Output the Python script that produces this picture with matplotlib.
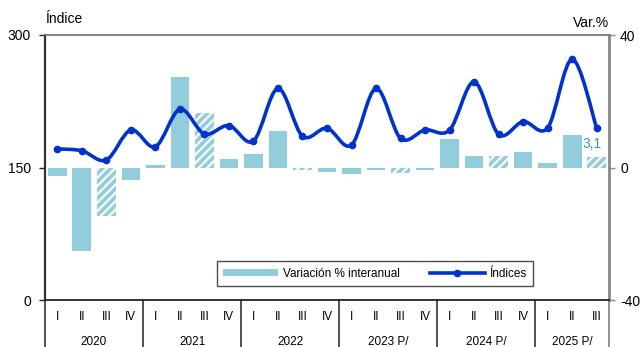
import numpy as np
import matplotlib
matplotlib.use("Agg")
import matplotlib.pyplot as plt
from matplotlib.path import Path
from matplotlib.patches import PathPatch
from matplotlib.lines import Line2D
from matplotlib.patches import Patch
import matplotlib.transforms as mtrans

plt.rcParams["font.family"] = ["Liberation Sans", "DejaVu Sans"]
plt.rcParams["hatch.color"] = "white"
plt.rcParams["hatch.linewidth"] = 1.6

# ----------------------------
# Data
# ----------------------------
years = ["2020", "2021", "2022", "2023 P/", "2024 P/", "2025 P/"]
quarters = ["I", "II", "III", "IV"] * 5 + ["I", "II", "III"]

indices = [171, 169, 158.5, 192.5, 173.5, 216, 188, 197.5, 180, 239.5, 185.5, 194.5,
           175.5, 239.5, 183, 192.5, 192.5, 247, 187.5, 202, 195, 272.5, 194.5]
variacion = [-2.6, -25.3, -14.7, -3.9, 0.9, 27.3, 16.5, 2.7, 4.1, 11.0, -0.8, -1.4,
             -2.1, -0.9, -1.6, -0.7, 8.5, 3.6, 3.4, 4.7, 1.4, 9.8, 3.1]
hatched = [2, 6, 10, 14, 18, 22]   # third quarters

BAR_COLOR = "#92CDDC"
LINE_COLOR = "#0033CC"

x = np.arange(len(indices))

fig = plt.figure(figsize=(6.4, 3.47), dpi=100)
ax = fig.add_axes([45 / 640, 47 / 347, 564 / 640, 265 / 347])
ax2 = ax.twinx()

# ----------------------------
# Bars (right axis)
# ----------------------------
for i, v in enumerate(variacion):
    if i in hatched:
        ax2.bar(x[i], v, width=0.76, color=BAR_COLOR, edgecolor="white",
                hatch="////", linewidth=0)
    else:
        ax2.bar(x[i], v, width=0.76, color=BAR_COLOR, linewidth=0)
ax2.set_ylim(-40, 40)
ax2.set_yticks([-40, 0, 40])
ax2.set_yticklabels(["-40", "0", "40"])
ax2.text(x[-1] - 0.2, variacion[-1] + 2.0, "3,1", color="#3399CC",
         fontsize=10, ha="center", va="bottom")

# ----------------------------
# Smoothed index line (left axis), Catmull-Rom -> Bezier
# ----------------------------
pts = np.column_stack([x, indices]).astype(float)
verts = [tuple(pts[0])]
codes = [Path.MOVETO]
for k in range(len(pts) - 1):
    p0 = pts[max(k - 1, 0)]
    p1 = pts[k]
    p2 = pts[k + 1]
    p3 = pts[min(k + 2, len(pts) - 1)]
    c1 = p1 + (p2 - p0) / 6
    c2 = p2 - (p3 - p1) / 6
    verts += [tuple(c1), tuple(c2), tuple(p2)]
    codes += [Path.CURVE4] * 3
ax.add_patch(PathPatch(Path(verts, codes), fill=False, edgecolor=LINE_COLOR,
                       linewidth=2.6, zorder=3))
ax.plot(x, indices, "o", color=LINE_COLOR, markersize=4.5, zorder=4)

ax.set_zorder(ax2.get_zorder() + 1)
ax.patch.set_visible(False)
ax.set_ylim(0, 300)
ax.set_yticks([0, 150, 300])
ax.set_xlim(-0.5, len(x) - 0.5)
ax.set_xticks([])
ax2.set_xticks([])

ax.tick_params(axis="y", labelsize=10, length=4, width=1, pad=6, color="#222222")
ax2.tick_params(axis="y", labelsize=10, length=4, width=1, pad=4, color="#888888")

ax.spines["left"].set_color("#333333")
ax.spines["left"].set_linewidth(1.6)
ax.spines["bottom"].set_color("#222222")
ax.spines["bottom"].set_linewidth(1.3)
ax.spines["top"].set_color("#777777")
ax.spines["top"].set_linewidth(1.3)
ax.spines["right"].set_visible(False)
ax2.spines["right"].set_color("#888888")
ax2.spines["right"].set_linewidth(2)
for s in ["left", "top", "bottom"]:
    ax2.spines[s].set_visible(False)

ax.text(0, 1.035, "Índice", transform=ax.transAxes, fontsize=10, ha="left", va="bottom")
ax.text(1, 1.018, "Var.%", transform=ax.transAxes, fontsize=10, ha="right", va="bottom")

# ----------------------------
# Two-level category axis
# ----------------------------
trans = mtrans.blended_transform_factory(ax.transData, ax.transAxes)
for i, q in enumerate(quarters):
    ax.text(x[i], -0.065, q, transform=trans, ha="center", va="center", fontsize=8.5)
for j, yr in enumerate(years):
    start = j * 4
    end = min(start + 3, len(x) - 1)
    ax.text((start + end) / 2, -0.16, yr, transform=trans, ha="center", va="center",
            fontsize=8.5)
for b in [-0.5, 3.5, 7.5, 11.5, 15.5, 19.5, 22.5]:
    col = "#777777" if b == 22.5 else "#222222"
    ax.add_line(Line2D([b, b], [0, -0.2], transform=trans, color=col, lw=1.1,
                       clip_on=False))

# ----------------------------
# Legend
# ----------------------------
handles = [Patch(facecolor=BAR_COLOR, edgecolor="none"),
           Line2D([], [], color=LINE_COLOR, lw=2.6, marker="o", markersize=4.5)]
leg = ax.legend(handles, ["Variación % interanual", "Índices"], ncol=2,
                loc="lower left", bbox_to_anchor=(172 / 564, 14 / 265, 316 / 564, 29 / 265),
                mode="expand", fontsize=8.5, frameon=True, fancybox=False,
                handlelength=4.6, handleheight=0.6, handletextpad=0.4,
                borderpad=0.55, borderaxespad=0, columnspacing=1.5)
leg.get_frame().set_edgecolor("#222222")
leg.get_frame().set_linewidth(1)

fig.savefig("out.png", dpi=100)
